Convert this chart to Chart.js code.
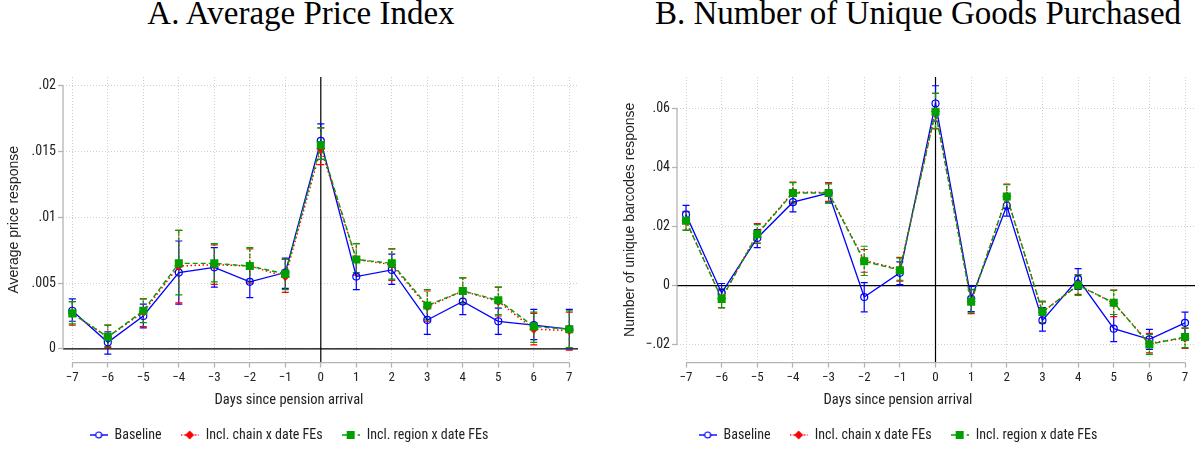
<!DOCTYPE html>
<html><head><meta charset="utf-8">
<script src="https://cdn.jsdelivr.net/npm/chart.js@4.4.1/dist/chart.umd.min.js"></script>
<style>
html,body{margin:0;padding:0;background:#fff;overflow:hidden;width:1202px;height:449px;}
.ttl{position:absolute;top:-3px;font-family:"Liberation Serif","Times New Roman",serif;font-size:33px;line-height:33px;color:#000;text-align:center;white-space:nowrap;width:600px;}
.pane{position:absolute;top:40px;width:601px;height:412px;}
</style></head><body>
<div class="ttl" style="left:1px;">A. Average Price Index</div>
<div class="ttl" style="left:618px;">B. Number of Unique Goods Purchased</div>
<div class="pane" style="left:0"><canvas id="cA" width="601" height="412"></canvas></div>
<div class="pane" style="left:601px"><canvas id="cB" width="601" height="412"></canvas></div>
<script>
// ---------- data ----------
const days = [-7,-6,-5,-4,-3,-2,-1,0,1,2,3,4,5,6,7];
const dayLabels = ['\u22127','\u22126','\u22125','\u22124','\u22123','\u22122','\u22121','0','1','2','3','4','5','6','7'];
const seriesNames = ['Baseline','Incl. chain x date FEs','Incl. region x date FEs'];
const xTitle = 'Days since pension arrival';

// Panel A: average price response
const priceTicks = [0, 0.005, 0.01, 0.015, 0.02];
const priceTickLabels = ['0','.005','.01','.015','.02'];
const priceBase   = [0.0029,0.0005,0.0025,0.0058,0.0062,0.0051,0.0058,0.0158,0.0055,0.0060,0.0022,0.0036,0.0021,0.0018,0.0015];
const priceBaseLo = [0.0021,-0.0004,0.0016,0.0034,0.0047,0.0039,0.0046,0.0144,0.0045,0.0049,0.0011,0.0026,0.0011,0.0007,0.0000];
const priceBaseHi = [0.0038,0.0013,0.0034,0.0082,0.0077,0.0063,0.0069,0.0171,0.0066,0.0072,0.0034,0.0046,0.0031,0.0030,0.0030];
const priceChain   = [0.0027,0.0009,0.0028,0.0063,0.0064,0.0063,0.0055,0.0152,0.0068,0.0064,0.0032,0.0044,0.0036,0.0015,0.0014];
const priceChainLo = [0.0018,0.0001,0.0017,0.0035,0.0049,0.0050,0.0043,0.0140,0.0056,0.0052,0.0021,0.0034,0.0025,0.0003,-0.0001];
const priceChainHi = [0.0036,0.0018,0.0038,0.0090,0.0079,0.0076,0.0068,0.0168,0.0080,0.0076,0.0044,0.0054,0.0047,0.0027,0.0028];
const priceRegion   = [0.0027,0.0009,0.0029,0.0065,0.0065,0.0063,0.0057,0.0155,0.0068,0.0065,0.0033,0.0044,0.0037,0.0017,0.0015];
const priceRegionLo = [0.0019,0.0002,0.0020,0.0041,0.0051,0.0051,0.0045,0.0144,0.0058,0.0053,0.0022,0.0034,0.0026,0.0005,0.0001];
const priceRegionHi = [0.0036,0.0018,0.0038,0.0090,0.0080,0.0077,0.0068,0.0168,0.0080,0.0076,0.0045,0.0054,0.0047,0.0028,0.0029];

// Panel B: number of unique barcodes response
const goodsTicks = [-0.02, 0, 0.02, 0.04, 0.06];
const goodsTickLabels = ['\u2212.02','0','.02','.04','.06'];
const goodsBase   = [0.0240,-0.0025,0.0161,0.0282,0.0313,-0.0039,0.0043,0.0616,-0.0045,0.0270,-0.0118,0.0022,-0.0146,-0.0182,-0.0126];
const goodsBaseLo = [0.0211,-0.0057,0.0128,0.0249,0.0280,-0.0089,0.0003,0.0556,-0.0088,0.0235,-0.0154,-0.0013,-0.0190,-0.0216,-0.0163];
const goodsBaseHi = [0.0271,0.0007,0.0189,0.0318,0.0348,0.0010,0.0080,0.0676,-0.0003,0.0305,-0.0075,0.0057,-0.0098,-0.0148,-0.0090];
const goodsChain   = [0.0219,-0.0044,0.0176,0.0316,0.0315,0.0085,0.0055,0.0590,-0.0055,0.0302,-0.0090,0.0002,-0.0060,-0.0195,-0.0178];
const goodsChainLo = [0.0188,-0.0076,0.0143,0.0282,0.0285,0.0045,0.0015,0.0530,-0.0095,0.0260,-0.0125,-0.0030,-0.0105,-0.0228,-0.0213];
const goodsChainHi = [0.0250,-0.0012,0.0210,0.0350,0.0348,0.0122,0.0095,0.0650,-0.0015,0.0343,-0.0055,0.0035,-0.0015,-0.0162,-0.0145];
const goodsRegion   = [0.0219,-0.0045,0.0174,0.0313,0.0313,0.0082,0.0052,0.0588,-0.0055,0.0301,-0.0089,0.0001,-0.0058,-0.0199,-0.0174];
const goodsRegionLo = [0.0187,-0.0075,0.0144,0.0276,0.0279,0.0034,0.0018,0.0532,-0.0092,0.0262,-0.0126,-0.0033,-0.0098,-0.0233,-0.0210];
const goodsRegionHi = [0.0251,-0.0011,0.0206,0.0348,0.0344,0.0133,0.0093,0.0650,-0.0013,0.0341,-0.0053,0.0037,-0.0016,-0.0165,-0.0143];

// ---------- styling ----------
const FONT = "'Liberation Sans Narrow','Roboto Condensed',Roboto,'Liberation Sans',Arial,sans-serif";
const FONT_REG = "'Liberation Sans',Arial,Helvetica,sans-serif";
Chart.defaults.font.family = FONT;
Chart.defaults.color = '#222';
const BLUE = '#0000ff', RED = '#ff0000', GREEN = '#00a000';
const GRID = '#cfcfcf', AXIS = '#b4b4b4';

function makeIcon(color, dash, kind) {
  const c = document.createElement('canvas');
  c.width = 18; c.height = 12;
  const g = c.getContext('2d');
  g.strokeStyle = color; g.lineWidth = 1.4; g.setLineDash(dash);
  g.beginPath(); g.moveTo(0, 6); g.lineTo(18, 6); g.stroke();
  g.setLineDash([]);
  g.fillStyle = color;
  if (kind === 'circle') {
    g.fillStyle = '#fff';
    g.beginPath(); g.arc(9, 6, 3, 0, Math.PI * 2); g.fill(); g.lineWidth = 1.2; g.stroke();
  } else if (kind === 'diamond') {
    g.beginPath(); g.moveTo(9, 1.5); g.lineTo(13.5, 6); g.lineTo(9, 10.5); g.lineTo(4.5, 6); g.closePath(); g.fill();
  } else {
    g.fillRect(5, 2, 8, 8);
  }
  return c;
}
const icons = [makeIcon(BLUE, [], 'circle'), makeIcon(RED, [1.5, 2], 'diamond'), makeIcon(GREEN, [5, 3], 'square')];
const errDash = [[], [1.5, 2], [4, 2]];

const stataPlugin = {
  id: 'stata',
  beforeDatasetsDraw(chart) {
    const {ctx, chartArea: a, scales: {x, y}} = chart;
    ctx.save();
    // reference lines at x = 0 and y = 0
    ctx.strokeStyle = '#000'; ctx.lineWidth = 1.2; ctx.setLineDash([]);
    const x0 = x.getPixelForValue(0), y0 = y.getPixelForValue(0);
    ctx.beginPath();
    ctx.moveTo(a.left, y0); ctx.lineTo(a.right, y0);
    ctx.moveTo(x0, a.top); ctx.lineTo(x0, a.bottom);
    ctx.stroke();
    // axis lines spanning the tick range
    ctx.strokeStyle = AXIS; ctx.lineWidth = 1.3;
    const yt = y.ticks, xt = x.ticks;
    ctx.beginPath();
    ctx.moveTo(a.left, y.getPixelForValue(yt[0].value)); ctx.lineTo(a.left, y.getPixelForValue(yt[yt.length - 1].value));
    ctx.moveTo(x.getPixelForValue(xt[0].value), a.bottom); ctx.lineTo(x.getPixelForValue(xt[xt.length - 1].value), a.bottom);
    ctx.stroke();
    // confidence intervals (capped spikes)
    chart.data.datasets.forEach((ds, i) => {
      ctx.strokeStyle = ds.borderColor; ctx.lineWidth = 1.2;
      ds.data.forEach((p, j) => {
        const px = x.getPixelForValue(p.x);
        const pl = y.getPixelForValue(ds.errLo[j]);
        const ph = y.getPixelForValue(ds.errHi[j]);
        ctx.setLineDash(errDash[i]);
        ctx.beginPath(); ctx.moveTo(px, pl); ctx.lineTo(px, ph); ctx.stroke();
        ctx.setLineDash([]);
        ctx.beginPath();
        ctx.moveTo(px - 3.5, pl); ctx.lineTo(px + 3.5, pl);
        ctx.moveTo(px - 3.5, ph); ctx.lineTo(px + 3.5, ph);
        ctx.stroke();
      });
    });
    ctx.restore();
  }
};

function buildChart(id, cfg) {
  const mk = (vals) => days.map((d, i) => ({x: d, y: vals[i]}));
  const datasets = [
    {label: seriesNames[0], data: mk(cfg.base), errLo: cfg.baseLo, errHi: cfg.baseHi,
     borderColor: BLUE, backgroundColor: BLUE, borderWidth: 1.3, pointStyle: 'circle', pointRadius: 3.5,
     pointBorderWidth: 1.2, pointBackgroundColor: 'rgba(255,255,255,0)', pointBorderColor: BLUE, order: 3},
    {label: seriesNames[1], data: mk(cfg.chain), errLo: cfg.chainLo, errHi: cfg.chainHi,
     borderColor: RED, backgroundColor: RED, borderWidth: 1.5, borderDash: [1.5, 2.5], pointStyle: 'rectRot', pointRadius: 4.5,
     pointBorderWidth: 0, pointBackgroundColor: RED, order: 2},
    {label: seriesNames[2], data: mk(cfg.region), errLo: cfg.regionLo, errHi: cfg.regionHi,
     borderColor: GREEN, backgroundColor: GREEN, borderWidth: 1.4, borderDash: [5, 3], pointStyle: 'rect', pointRadius: 5.7,
     pointBorderWidth: 0, pointBackgroundColor: GREEN, order: 1}
  ];
  const gridOpts = {color: GRID, lineWidth: 1, tickColor: AXIS, tickWidth: 1.3, tickLength: 5, tickBorderDash: []};
  return new Chart(document.getElementById(id), {
    type: 'line',
    data: {datasets},
    plugins: [stataPlugin],
    options: {
      responsive: false, animation: false,
      layout: {padding: {top: 37, left: 0, right: cfg.padRight, bottom: 0}},
      elements: {line: {tension: 0}},
      scales: {
        x: {type: 'linear', min: cfg.xMin, max: cfg.xMax,
            afterBuildTicks: s => { s.ticks = days.map(v => ({value: v})); },
            afterFit: s => { s.height = 29; },
            ticks: {callback: (v, i) => dayLabels[i], font: {size: 13}, color: '#222', padding: 2, maxRotation: 0, autoSkip: false},
            grid: gridOpts, border: {display: false, dash: [1, 2]}},
        y: {type: 'linear', min: cfg.yMin, max: cfg.yMax,
            afterBuildTicks: s => { s.ticks = cfg.ticks.map(v => ({value: v})); },
            afterFit: s => { s.width = cfg.yWidth; },
            ticks: {callback: (v, i) => cfg.tickLabels[i], font: {size: 14}, color: '#222', padding: 2},
            grid: gridOpts, border: {display: false, dash: [1, 2]},
            title: {display: true, text: cfg.yTitle, font: {size: 14, family: FONT_REG}, color: '#222', padding: {top: cfg.yTitlePad, bottom: 0}}}
      },
      plugins: {
        title: {display: true, text: xTitle, position: 'bottom', weight: 500, font: {size: 14.5, weight: 'normal'}, color: '#222', padding: {top: 0, bottom: 0}},
        legend: {position: 'bottom',
          labels: {usePointStyle: true, pointStyleWidth: 18, padding: 19, font: {size: 14}, color: '#222',
            generateLabels: (chart) => {
              const items = Chart.defaults.plugins.legend.labels.generateLabels(chart);
              items.sort((a, b) => a.datasetIndex - b.datasetIndex);
              items.forEach(it => { it.pointStyle = icons[it.datasetIndex]; });
              return items;
            }}},
        tooltip: {enabled: false}
      }
    }
  });
}

buildChart('cA', {
  base: priceBase, baseLo: priceBaseLo, baseHi: priceBaseHi,
  chain: priceChain, chainLo: priceChainLo, chainHi: priceChainHi,
  region: priceRegion, regionLo: priceRegionLo, regionHi: priceRegionHi,
  ticks: priceTicks, tickLabels: priceTickLabels, yTitle: 'Average price response',
  yMin: -0.00104, yMax: 0.02066, xMin: -7.262, xMax: 7.245,
  yWidth: 63, yTitlePad: 6, padRight: 23
});
buildChart('cB', {
  base: goodsBase, baseLo: goodsBaseLo, baseHi: goodsBaseHi,
  chain: goodsChain, chainLo: goodsChainLo, chainHi: goodsChainHi,
  region: goodsRegion, regionLo: goodsRegionLo, regionHi: goodsRegionHi,
  ticks: goodsTicks, tickLabels: goodsTickLabels, yTitle: 'Number of unique barcodes response',
  yMin: -0.02607, yMax: 0.07056, xMin: -7.2525, xMax: 7.28,
  yWidth: 76, yTitlePad: 20.6, padRight: 7
});
</script>
</body></html>
